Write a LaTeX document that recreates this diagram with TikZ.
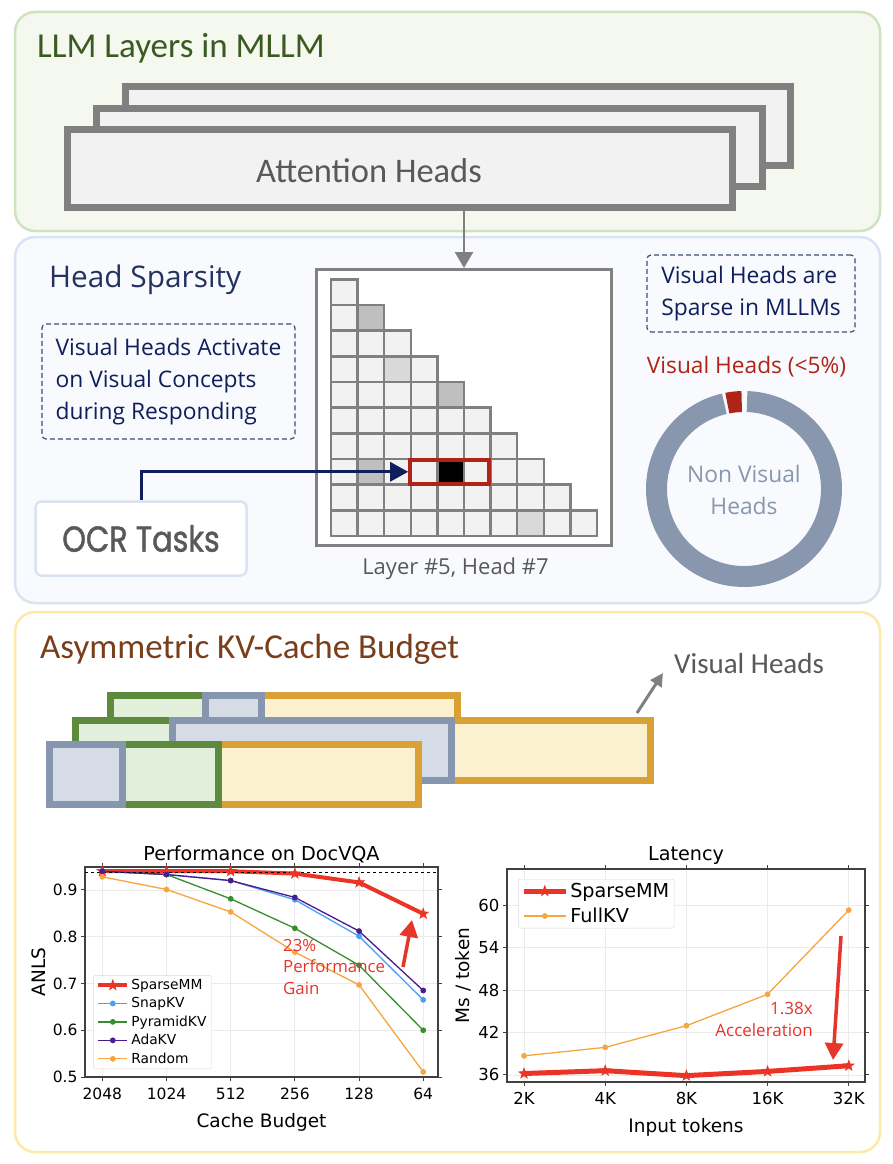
\documentclass[tikz,border=0pt]{standalone}
\usepackage{fontspec}
\usepackage{pgfplots}
\pgfplotsset{compat=1.18}
\usetikzlibrary{arrows.meta}
\setmainfont{Open Sans}
\newfontfamily\calfont{Carlito}
\newfontfamily\ocrfont{Poppins}[FakeStretch=0.84, FakeBold=1.2]
\newfontfamily\plotfont{DejaVu Sans}

\definecolor{greenpanel}{HTML}{F4F8EF}
\definecolor{greenedge}{HTML}{CFE3BF}
\definecolor{bluepanel}{HTML}{F8FAFD}
\definecolor{blueedge}{HTML}{DAE3F1}
\definecolor{yellowedge}{HTML}{FDE9A8}
\definecolor{titlegreen}{HTML}{3B5A22}
\definecolor{titlenavy}{HTML}{24325E}
\definecolor{navy}{HTML}{0E1F5B}
\definecolor{titlebrown}{HTML}{7A3E1A}
\definecolor{textgray}{HTML}{595959}
\definecolor{boxgray}{HTML}{808080}
\definecolor{boxfill}{HTML}{F2F2F2}
\definecolor{cellmid}{HTML}{BFBFBF}
\definecolor{celllight}{HTML}{D9D9D9}
\definecolor{headred}{HTML}{B02418}
\definecolor{ringgray}{HTML}{8997AE}
\definecolor{kvgreen}{HTML}{5E8A3E}
\definecolor{kvgreenfill}{HTML}{E2EFDA}
\definecolor{kvblue}{HTML}{8796AF}
\definecolor{kvbluefill}{HTML}{D6DCE5}
\definecolor{kvyellow}{HTML}{D8A035}
\definecolor{kvyellowfill}{HTML}{FCF1CF}
\definecolor{plotred}{HTML}{EC3426}
\definecolor{plotblue}{HTML}{4A9FF5}
\definecolor{plotgreen}{HTML}{388E2E}
\definecolor{plotpurple}{HTML}{4B1C8E}
\definecolor{plotorange}{HTML}{F6A540}
\definecolor{annored}{HTML}{E8352B}

\pgfdeclareplotmark{fstar}{%
  \pgfpathmoveto{\pgfpointpolar{90}{\pgfplotmarksize}}%
  \pgfpathlineto{\pgfpointpolar{126}{0.4\pgfplotmarksize}}%
  \pgfpathlineto{\pgfpointpolar{162}{\pgfplotmarksize}}%
  \pgfpathlineto{\pgfpointpolar{198}{0.4\pgfplotmarksize}}%
  \pgfpathlineto{\pgfpointpolar{234}{\pgfplotmarksize}}%
  \pgfpathlineto{\pgfpointpolar{270}{0.4\pgfplotmarksize}}%
  \pgfpathlineto{\pgfpointpolar{306}{\pgfplotmarksize}}%
  \pgfpathlineto{\pgfpointpolar{342}{0.4\pgfplotmarksize}}%
  \pgfpathlineto{\pgfpointpolar{18}{\pgfplotmarksize}}%
  \pgfpathlineto{\pgfpointpolar{54}{0.4\pgfplotmarksize}}%
  \pgfpathclose
  \pgfusepathqfillstroke}

\pgfplotsset{
  plotbase/.style={
    scale only axis,
    axis line style={black!75, line width=1.2pt},
    tick align=outside, tick style={black!75, line width=1pt}, major tick length=4pt,
    grid=major, grid style={black!8, line width=0.8pt},
    label style={font=\plotfont\fontsize{18.5}{20}\selectfont},
    title style={font=\plotfont\fontsize{19.2}{21}\selectfont, yshift=-5pt},
    xticklabel style={yshift=-3pt},
    xlabel style={yshift=-7pt},
    legend cell align=left,
  }
}

\begin{document}
\begin{tikzpicture}[x=1pt, y=-1pt]
    \tikzstyle{panel}=[rounded corners=20pt, line width=2.5pt]
    \tikzstyle{layerbox}=[draw=boxgray, fill=boxfill, line width=7pt, inner sep=0pt]
    \tikzstyle{cell}=[draw=boxgray, line width=2.5pt]
    \tikzstyle{note}=[draw=navy!80, dash pattern=on 5pt off 3pt, line width=1.2pt, rounded corners=4pt, align=left, text=navy, font={\fontsize{22.8}{32}\selectfont}]
    \tikzstyle{kv}=[line width=7pt]
    \useasboundingbox (0,0) rectangle (892,1164);
    \fill[white] (0,0) rectangle (892,1164);

    \draw[panel, draw=greenedge, fill=greenpanel] (15,12) rectangle (880,231);
    \draw[panel, draw=blueedge, fill=bluepanel] (15,237) rectangle (880,603);
    \draw[panel, draw=yellowedge, fill=white] (15,612) rectangle (880,1152);

    \node[anchor=base west, inner sep=0pt, text=titlegreen, font={\calfont\fontsize{35}{40}\selectfont}] (llmtitle) at (37,57) {LLM Layers in MLLM};
    \node[layerbox, minimum width=665pt, minimum height=79pt] (layerC) at (458,126) {};
    \node[layerbox, minimum width=666pt, minimum height=78pt] (layerB) at (429.5,147.5) {};
    \node[layerbox, minimum width=665pt, minimum height=78pt] (layerA) at (400,168.5) {};
    \node[anchor=base, inner sep=0pt, text=textgray, font={\calfont\fontsize{34.5}{40}\selectfont}] (attn) at (369,182) {Attention Heads};

    \node[anchor=base west, inner sep=0pt, text=titlenavy, font={\fontsize{29.8}{34}\selectfont}] (hstitle) at (49,287) {Head Sparsity};
    \node[note, minimum width=253pt, minimum height=115pt, inner sep=2pt] (activate) at (168.5,381.5) {Visual Heads Activate\\on Visual Concepts\\during Responding};
    \node[note, minimum width=208pt, minimum height=77pt, inner sep=2pt] (sparse) at (751,293.5) {Visual Heads are\\Sparse in MLLMs};

    \node[draw=boxgray, fill=white, line width=3pt, minimum width=295pt, minimum height=276pt] (hmap) at (464,407.5) {};
    \draw[boxgray, line width=2.5pt, -{Triangle[length=16pt, width=18pt]}] (layerA.south -| hmap.north) -- (hmap.north);
    \foreach \r in {1,...,10}
        \foreach \c in {1,...,\r}
            \draw[cell, fill=boxfill] ({331+(\c-1)*26.6},{279.3+(\r-1)*25.67}) rectangle ++(26.6,25.67);
    \foreach \r/\c/\col in {2/2/cellmid, 4/3/celllight, 5/5/cellmid, 8/2/cellmid, 8/5/black, 10/8/celllight}
        \draw[cell, fill=\col] ({331+(\c-1)*26.6},{279.3+(\r-1)*25.67}) rectangle ++(26.6,25.67);
    \node[draw=headred, line width=4pt, minimum width=79pt, minimum height=23.5pt, inner sep=0pt] (pick) at (449.7,471.8) {};
    \node[anchor=base, text=textgray, font={\fontsize{22}{24}\selectfont}] (hmlabel) at (455.5,574) {Layer \#5, Head \#7};

    \node[draw=blueedge, line width=2.5pt, fill=white, rounded corners=6pt, minimum width=211pt, minimum height=74pt, text=textgray, font={\ocrfont\fontsize{36}{40}\selectfont}] (ocr) at (141,538.5) {OCR Tasks};
    \draw[navy, line width=3pt, -{Triangle[length=18pt, width=19pt]}] (ocr.north) |- (pick.west);

    \node[anchor=base, text=headred, font={\fontsize{22.7}{26}\selectfont}] (vislabel) at (746.5,373) {Visual Heads (<5\%)};
    \begin{scope}[shift={(744,489)}]
        \fill[ringgray] (-88:98) arc[start angle=-88, end angle=257, radius=98] -- (257:77) arc[start angle=257, end angle=-88, radius=77] -- cycle;
        \fill[headred] (-101:98) arc[start angle=-101, end angle=-91.5, radius=98] -- (-91.5:77) arc[start angle=-91.5, end angle=-101, radius=77] -- cycle;
    \end{scope}
    \node[align=center, text=ringgray, font={\fontsize{22.8}{32}\selectfont}] (nonvis) at (744,490) {Non Visual\\Heads};

    \node[anchor=base west, inner sep=0pt, text=titlebrown, font={\calfont\fontsize{35}{40}\selectfont}] (kvtitle) at (40,658) {Asymmetric KV-Cache Budget};
    \draw[kv, draw=kvyellow, fill=kvyellowfill] (261.5,695.5) rectangle (457.5,742);
    \draw[kv, draw=kvgreen, fill=kvgreenfill] (110.5,695.5) rectangle (205.5,742);
    \draw[kv, draw=kvblue, fill=kvbluefill] (205.5,695.5) rectangle (261.5,742);
    \draw[kv, draw=kvyellow, fill=kvyellowfill] (451.5,720.5) rectangle (650.5,780.5);
    \draw[kv, draw=kvgreen, fill=kvgreenfill] (75.5,720.5) rectangle (172.5,780.5);
    \draw[kv, draw=kvblue, fill=kvbluefill] (172.5,720.5) rectangle (451.5,780.5);
    \draw[kv, draw=kvyellow, fill=kvyellowfill] (218.5,744.5) rectangle (418.5,804.5);
    \draw[kv, draw=kvgreen, fill=kvgreenfill] (122.5,744.5) rectangle (218.5,804.5);
    \draw[kv, draw=kvblue, fill=kvbluefill] (49.5,744.5) rectangle (122.5,804.5);
    \node[anchor=base west, inner sep=0pt, text=textgray, font={\calfont\fontsize{29}{34}\selectfont}] (vhlabel) at (674,673) {Visual Heads};
    \coordinate (kvtail) at (637,713);
    \draw[boxgray, line width=3pt, -{Triangle[length=13pt, width=13pt]}] (kvtail) -- ([xshift=-11pt]vhlabel.base west);

    \begin{axis}[plotbase, name=perf, at={(85pt,-1077pt)}, anchor=south west,
        width=353pt, height=210pt,
        xmin=-0.27, xmax=5.23, ymin=0.5, ymax=0.949,
        xtick={0,...,5}, xticklabels={2048,1024,512,256,128,64},
        ytick={0.5,0.6,0.7,0.8,0.9}, yticklabels={0.5,0.6,0.7,0.8,0.9},
        tick label style={font={\plotfont\fontsize{15.5}{17}\selectfont}},
        title={Performance on DocVQA}, xlabel={Cache Budget}, ylabel={ANLS},
        legend style={at={(0.023,0.038)}, anchor=south west, draw=black!15, rounded corners=2pt,
            font={\plotfont\fontsize{13.8}{15}\selectfont}, row sep=2.5pt},
        legend image code/.code={\draw[mark repeat=2,mark phase=2,#1] plot coordinates {(0pt,0pt) (14.5pt,0pt) (29pt,0pt)};}]
        \addplot[plotred, line width=4pt, mark=fstar, mark size=5.5pt, mark options={line width=0.6pt}] coordinates {(0,0.94) (1,0.94) (2,0.94) (3,0.935) (4,0.916) (5,0.849)};
        \addlegendentry{SparseMM}
        \addplot[plotblue, line width=1.3pt, mark=*, mark size=2.2pt] coordinates {(0,0.94) (1,0.933) (2,0.92) (3,0.879) (4,0.801) (5,0.665)};
        \addlegendentry{SnapKV}
        \addplot[plotgreen, line width=1.3pt, mark=*, mark size=2.2pt] coordinates {(0,0.94) (1,0.933) (2,0.881) (3,0.818) (4,0.739) (5,0.600)};
        \addlegendentry{PyramidKV}
        \addplot[plotpurple, line width=1.3pt, mark=*, mark size=2.2pt] coordinates {(0,0.94) (1,0.933) (2,0.920) (3,0.884) (4,0.812) (5,0.685)};
        \addlegendentry{AdaKV}
        \addplot[plotorange, line width=1.3pt, mark=*, mark size=2.2pt] coordinates {(0,0.928) (1,0.901) (2,0.853) (3,0.767) (4,0.697) (5,0.511)};
        \addlegendentry{Random}
        \draw[black, dashed, line width=1pt] (axis cs:-0.27,0.938) -- (axis cs:5.23,0.938);
    \end{axis}
    \node[anchor=north west, align=left, inner sep=0pt, text=annored, font={\fontsize{16.8}{21.5}\selectfont}] (gain) at (283,939) {23\%\\Performance\\Gain};
    \coordinate (gaintail) at (403,967);
    \coordinate (gaintip) at (412,920);
    \draw[annored, line width=3.5pt, -{Triangle[length=17pt, width=18pt]}] (gaintail) -- (gaintip);

    \begin{axis}[plotbase, name=lat, at={(507pt,-1082pt)}, anchor=south west,
        width=358pt, height=213pt,
        xmin=-0.21, xmax=4.2, ymin=35, ymax=65.1,
        xtick={0,...,4}, xticklabels={2K,4K,8K,16K,32K},
        ytick={36,42,48,54,60}, yticklabels={36,42,48,54,60},
        tick label style={font={\plotfont\fontsize{16.5}{18}\selectfont}},
        title={Latency}, xlabel={Input tokens}, ylabel={Ms / token},
        legend style={at={(0.031,0.953)}, anchor=north west, draw=black!15, rounded corners=2pt,
            font={\plotfont\fontsize{19.2}{21}\selectfont}, row sep=5pt},
        legend image code/.code={\draw[mark repeat=2,mark phase=2,#1] plot coordinates {(0pt,0pt) (21pt,0pt) (42pt,0pt)};}]
        \addplot[plotred, line width=5pt, mark=fstar, mark size=5.5pt, mark options={line width=0.6pt}] coordinates {(0,36.2) (1,36.6) (2,35.9) (3,36.5) (4,37.3)};
        \addlegendentry{SparseMM}
        \addplot[plotorange, line width=1.3pt, mark=*, mark size=2.2pt] coordinates {(0,38.7) (1,39.9) (2,42.96) (3,47.4) (4,59.3)};
        \addlegendentry{FullKV}
    \end{axis}
    \node[anchor=north east, align=right, inner sep=0pt, text=annored, font={\fontsize{17}{21.5}\selectfont}] (accel) at (813,1002) {1.38x\\Acceleration};
    \coordinate (acctail) at (841,936);
    \coordinate (acctip) at (833,1060);
    \draw[annored, line width=3.5pt, -{Triangle[length=17pt, width=18pt]}] (acctail) -- (acctip);
\end{tikzpicture}
\end{document}
